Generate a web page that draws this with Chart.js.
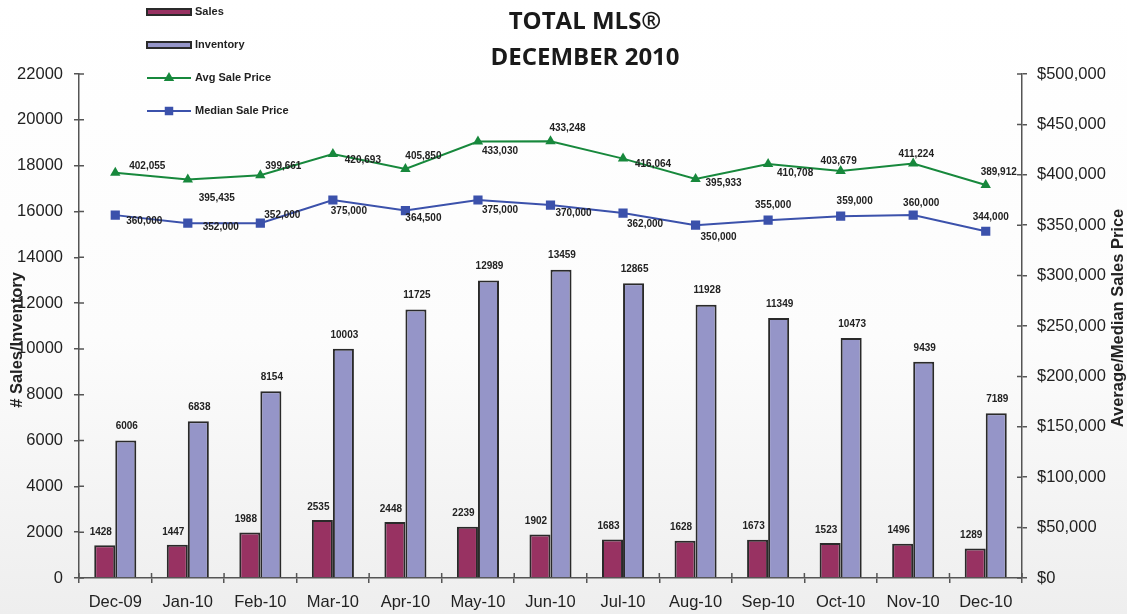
<!DOCTYPE html>
<html>
<head>
<meta charset="utf-8">
<title>Total MLS December 2010</title>
<script src="https://cdn.jsdelivr.net/npm/chart.js@4.4.1/dist/chart.umd.min.js"></script>
<style>
  html, body { margin: 0; padding: 0; }
  body {
    width: 1127px; height: 614px; overflow: hidden;
    background: linear-gradient(to bottom, #ffffff 0%, #fcfcfc 55%, #eeeeee 100%);
  }
  #wrap { position: relative; width: 1127px; height: 614px; }
</style>
</head>
<body>
<div id="wrap"><canvas id="mlsChart"></canvas></div>
<script>
const months = ['Dec-09', 'Jan-10', 'Feb-10', 'Mar-10', 'Apr-10', 'May-10', 'Jun-10',
                'Jul-10', 'Aug-10', 'Sep-10', 'Oct-10', 'Nov-10', 'Dec-10'];
const sales = [1428, 1447, 1988, 2535, 2448, 2239, 1902, 1683, 1628, 1673, 1523, 1496, 1289];
const inventory = [6006, 6838, 8154, 10003, 11725, 12989, 13459, 12865, 11928, 11349, 10473, 9439, 7189];
const avgPrice = [402055, 395435, 399661, 420693, 405850, 433030, 433248, 416064, 395933, 410708, 403679, 411224, 389912];
const medianPrice = [360000, 352000, 352000, 375000, 364500, 375000, 370000, 362000, 350000, 355000, 359000, 360000, 344000];

// where the price labels sit relative to their point, in pixels
const avgLabelOffset = [[32, -6], [29, 19], [23, -9], [30, 6], [18, -13], [22, 10], [17, -13],
                        [30, 6], [28, 4], [27, 9], [-2, -10], [3, -9], [13, -13]];
const medianLabelOffset = [[29, 6], [33, 4], [22, -8], [16, 11], [18, 8], [22, 10], [23, 8],
                           [22, 11], [23, 12], [5, -15], [14, -15], [8, -12], [5, -14]];

const SALES_COLOR = '#983262';
const INV_COLOR = '#9595c8';
const AVG_COLOR = '#17883c';
const MED_COLOR = '#3b51ab';
const AXIS_COLOR = '#555555';
const TEXT_COLOR = '#222222';

function money(v) {
    return '$' + v.toLocaleString('en-US');
}

const extras = {
    id: 'extras',
    afterDraw(chart) {
        const ctx = chart.ctx;
        const area = chart.chartArea;
        const y = chart.scales.y, y1 = chart.scales.y1;
        ctx.save();

        // inner half of the tick marks
        ctx.strokeStyle = AXIS_COLOR;
        ctx.lineWidth = 1.5;
        ctx.beginPath();
        y.ticks.forEach((t, i) => {
            const py = y.getPixelForTick(i);
            ctx.moveTo(area.left, py); ctx.lineTo(area.left + 5, py);
        });
        y1.ticks.forEach((t, i) => {
            const py = y1.getPixelForTick(i);
            ctx.moveTo(area.right - 5, py); ctx.lineTo(area.right, py);
        });
        const step = (area.right - area.left) / months.length;
        for (let i = 0; i <= months.length; i++) {
            const px = area.left + i * step;
            ctx.moveTo(px, area.bottom - 5); ctx.lineTo(px, area.bottom);
        }
        ctx.stroke();

        // title
        ctx.fillStyle = '#1a1a1a';
        ctx.textAlign = 'center';
        ctx.textBaseline = 'middle';
        ctx.font = 'bold 24px "Open Sans"';
        ctx.fillText('TOTAL MLS\u00AE', 585, 22);
        ctx.fillText('DECEMBER 2010', 585, 58);

        // axis titles
        ctx.fillStyle = TEXT_COLOR;
        ctx.font = 'bold 16.5px "Liberation Sans", Arial';
        ctx.save();
        ctx.translate(17, 340);
        ctx.rotate(-Math.PI / 2);
        ctx.fillText('# Sales/Inventory', 0, 0);
        ctx.restore();
        ctx.save();
        ctx.translate(1118, 318);
        ctx.rotate(-Math.PI / 2);
        ctx.fillText('Average/Median Sales Price', 0, 0);
        ctx.restore();

        // legend
        ctx.font = 'bold 11px "Liberation Sans", Arial';
        ctx.textAlign = 'left';
        const lx = 147, lw = 44;
        [[SALES_COLOR, 'Sales', 12], [INV_COLOR, 'Inventory', 45]].forEach(([c, label, ly]) => {
            ctx.fillStyle = c;
            ctx.fillRect(lx, ly - 3, lw, 6);
            ctx.strokeStyle = '#2a2a2a';
            ctx.lineWidth = 2;
            ctx.strokeRect(lx, ly - 3, lw, 6);
            ctx.fillStyle = TEXT_COLOR;
            ctx.fillText(label, lx + 48, ly);
        });
        [[AVG_COLOR, 'Avg Sale Price', 78, 'triangle'], [MED_COLOR, 'Median Sale Price', 111, 'rect']].forEach(([c, label, ly, style]) => {
            ctx.strokeStyle = c;
            ctx.lineWidth = 2;
            ctx.beginPath();
            ctx.moveTo(lx, ly); ctx.lineTo(lx + lw, ly);
            ctx.stroke();
            ctx.fillStyle = c;
            Chart.helpers.drawPoint(ctx, { pointStyle: style, radius: style === 'rect' ? 6 : 6, borderWidth: 0 }, lx + lw / 2, ly);
            ctx.fillStyle = TEXT_COLOR;
            ctx.fillText(label, lx + 48, ly);
        });

        // value labels
        ctx.font = 'bold 10px "Liberation Sans", Arial';
        ctx.textAlign = 'center';
        ctx.fillStyle = TEXT_COLOR;
        chart.getDatasetMeta(0).data.forEach((bar, i) => {
            ctx.fillText(String(sales[i]), bar.x - 4, bar.y - 13);
        });
        chart.getDatasetMeta(1).data.forEach((bar, i) => {
            ctx.fillText(String(inventory[i]), bar.x + 1, bar.y - 14);
        });
        chart.getDatasetMeta(2).data.forEach((pt, i) => {
            ctx.fillText(avgPrice[i].toLocaleString('en-US'), pt.x + avgLabelOffset[i][0], pt.y + avgLabelOffset[i][1]);
        });
        chart.getDatasetMeta(3).data.forEach((pt, i) => {
            ctx.fillText(medianPrice[i].toLocaleString('en-US'), pt.x + medianLabelOffset[i][0], pt.y + medianLabelOffset[i][1]);
        });

        ctx.restore();
    }
};

const tickFont = { family: '"Liberation Sans", Arial', size: 16.5 };

const ctx = document.getElementById('mlsChart').getContext('2d');
const mlsChart = new Chart(ctx, {
    type: 'bar',
    data: {
        labels: months,
        datasets: [{
            label: 'Sales',
            data: sales,
            backgroundColor: SALES_COLOR,
            borderColor: '#2a2a2a',
            borderWidth: 2,
            yAxisID: 'y',
            order: 2
        }, {
            label: 'Inventory',
            data: inventory,
            backgroundColor: INV_COLOR,
            borderColor: '#2a2a2a',
            borderWidth: 2,
            yAxisID: 'y',
            order: 2
        }, {
            type: 'line',
            label: 'Avg Sale Price',
            data: avgPrice,
            borderColor: AVG_COLOR,
            backgroundColor: AVG_COLOR,
            borderWidth: 2,
            pointStyle: 'triangle',
            pointRadius: 6,
            pointBorderWidth: 0,
            tension: 0,
            yAxisID: 'y1',
            order: 1
        }, {
            type: 'line',
            label: 'Median Sale Price',
            data: medianPrice,
            borderColor: MED_COLOR,
            backgroundColor: MED_COLOR,
            borderWidth: 2,
            pointStyle: 'rect',
            pointRadius: 6.5,
            pointBorderWidth: 0,
            tension: 0,
            yAxisID: 'y1',
            order: 1
        }]
    },
    options: {
        responsive: true,
        maintainAspectRatio: false,
        animation: false,
        datasets: {
            bar: { categoryPercentage: 0.58, barPercentage: 1 }
        },
        layout: { padding: { top: 74, left: 0, right: 0, bottom: 0 } },
        plugins: {
            legend: { display: false },
            title: { display: false },
            tooltip: { enabled: false }
        },
        scales: {
            x: {
                offset: true,
                grid: { drawOnChartArea: false, tickLength: 5, color: AXIS_COLOR, lineWidth: 1.5 },
                border: { color: AXIS_COLOR, width: 1.5 },
                ticks: { font: tickFont, color: TEXT_COLOR, padding: 10, maxRotation: 0 },
                afterFit(scale) { scale.height = 36; }
            },
            y: {
                position: 'left',
                min: 0,
                max: 22000,
                ticks: { stepSize: 2000, font: tickFont, color: TEXT_COLOR, padding: 11, callback: v => String(v) },
                grid: { drawOnChartArea: false, tickLength: 5, color: AXIS_COLOR, lineWidth: 1.5 },
                border: { color: AXIS_COLOR, width: 1.5 },
                afterFit(scale) { scale.width = 79; }
            },
            y1: {
                position: 'right',
                min: 0,
                max: 500000,
                ticks: { stepSize: 50000, font: tickFont, color: TEXT_COLOR, padding: 10, callback: v => money(v) },
                grid: { drawOnChartArea: false, tickLength: 5, color: AXIS_COLOR, lineWidth: 1.5 },
                border: { color: AXIS_COLOR, width: 1.5 },
                afterFit(scale) { scale.width = 105; }
            }
        }
    },
    plugins: [extras]
});
</script>
</body>
</html>
